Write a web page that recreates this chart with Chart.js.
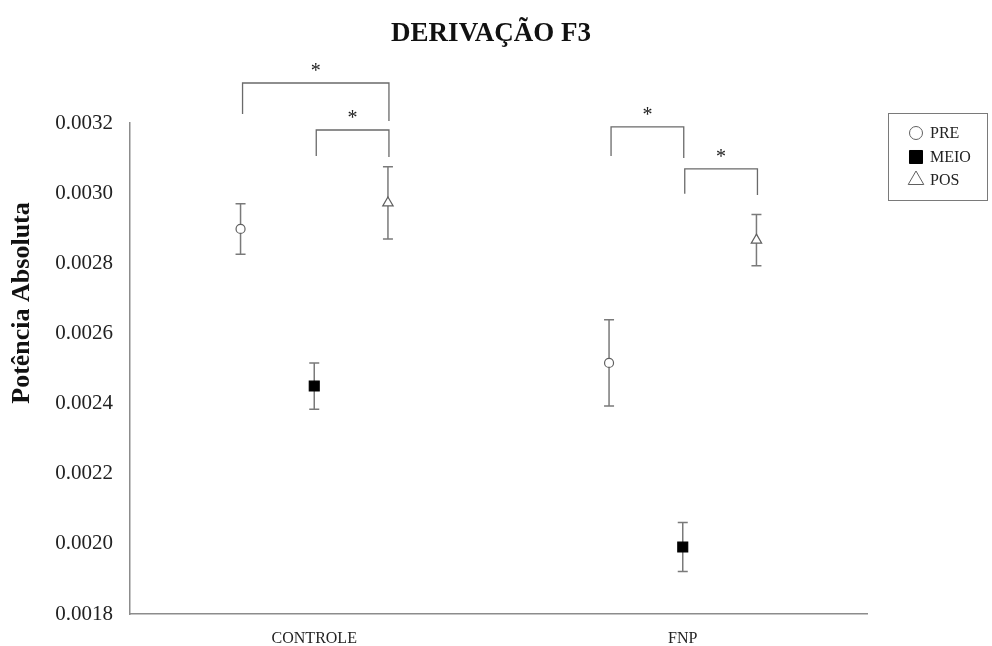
<!DOCTYPE html>
<html>
<head>
<meta charset="utf-8">
<title>Derivação F3</title>
<script src="https://cdn.jsdelivr.net/npm/chart.js@4/dist/chart.umd.min.js"></script>
<style>
  html, body { margin: 0; padding: 0; background: #fff; }
  #wrap { width: 992px; height: 646px; position: relative; }
</style>
</head>
<body>
<div id="wrap"><canvas id="chart"></canvas></div>
<script>
// Groups and moments of measurement
const categories = ['CONTROLE', 'FNP'];
const seriesNames = ['PRE', 'MEIO', 'POS'];

// Mean absolute power and error per group
const preMean  = [0.002898, 0.002516];
const preErr   = [0.000072, 0.000123];
const meioMean = [0.002450, 0.001991];
const meioErr  = [0.000066, 0.000070];
const posMean  = [0.002972, 0.002866];
const posErr   = [0.000103, 0.000073];

// Value axis ticks
const yTicks = [0.0018, 0.0020, 0.0022, 0.0024, 0.0026, 0.0028, 0.0030, 0.0032];

// Significant comparisons: group, first moment, second moment,
// bracket level and where each leg ends (value units)
const compGroup   = [0, 0, 1, 1];
const compFrom    = [0, 1, 0, 1];
const compTo      = [2, 2, 1, 2];
const compLevel   = [0.003314, 0.003180, 0.003189, 0.003069];
const compLegFrom = [0.003226, 0.003106, 0.003106, 0.002998];
const compLegTo   = [0.003206, 0.003103, 0.003100, 0.002995];
const compMark    = ['*', '*', '*', '*'];

// ---- presentation ----
const SERIF = '"Liberation Serif", "Times New Roman", serif';
const groupOffset = [-0.2, 0, 0.2];          // spread of the three moments inside a group
const means = [preMean, meioMean, posMean];
const errs = [preErr, meioErr, posErr];
const styles = [
  { pointStyle: 'circle',   radius: 4.5, bg: '#ffffff', border: '#606060', legendRadius: 6.5 },
  { pointStyle: 'rect',     radius: 7,   bg: '#000000', border: '#000000', legendRadius: 9.2 },
  { pointStyle: 'triangle', radius: 6,   bg: '#ffffff', border: '#606060', legendRadius: 9 }
];

const datasets = seriesNames.map((name, s) => ({
  label: name,
  data: categories.map((_, c) => ({ x: c + groupOffset[s], y: means[s][c], err: errs[s][c] })),
  pointStyle: styles[s].pointStyle,
  pointRadius: styles[s].radius,
  pointHoverRadius: styles[s].radius,
  pointBackgroundColor: styles[s].bg,
  pointBorderColor: styles[s].border,
  pointBorderWidth: 1.2,
  showLine: false
}));

// Vertical error bars with caps, drawn beneath the markers
const errorBars = {
  id: 'errorBars',
  beforeDatasetsDraw(chart) {
    const { ctx, scales: { y } } = chart;
    ctx.save();
    ctx.strokeStyle = '#7a7a7a';
    ctx.lineWidth = 1.5;
    chart.data.datasets.forEach((ds, i) => {
      const meta = chart.getDatasetMeta(i);
      meta.data.forEach((pt, j) => {
        const d = ds.data[j];
        const top = y.getPixelForValue(d.y + d.err);
        const bot = y.getPixelForValue(d.y - d.err);
        const cap = 5;
        ctx.beginPath();
        ctx.moveTo(pt.x, top); ctx.lineTo(pt.x, bot);
        ctx.moveTo(pt.x - cap, top); ctx.lineTo(pt.x + cap, top);
        ctx.moveTo(pt.x - cap, bot); ctx.lineTo(pt.x + cap, bot);
        ctx.stroke();
      });
    });
    ctx.restore();
  }
};

// Significance brackets with asterisks
const brackets = {
  id: 'brackets',
  afterDraw(chart) {
    const { ctx, scales: { x, y } } = chart;
    ctx.save();
    ctx.strokeStyle = '#6a6a6a';
    ctx.lineWidth = 1.3;
    ctx.fillStyle = '#222';
    ctx.font = '20px ' + SERIF;
    ctx.textAlign = 'center';
    ctx.textBaseline = 'middle';
    compGroup.forEach((g, i) => {
      const xa = x.getPixelForValue(g + groupOffset[compFrom[i]]) + 2;
      const xb = x.getPixelForValue(g + groupOffset[compTo[i]]) + 1;
      const yt = y.getPixelForValue(compLevel[i]);
      ctx.beginPath();
      ctx.moveTo(xa, y.getPixelForValue(compLegFrom[i]));
      ctx.lineTo(xa, yt);
      ctx.lineTo(xb, yt);
      ctx.lineTo(xb, y.getPixelForValue(compLegTo[i]));
      ctx.stroke();
      ctx.fillText(compMark[i], (xa + xb) / 2, yt - 11);
    });
    ctx.restore();
  }
};

// Rotated value-axis title
const yTitle = {
  id: 'yTitle',
  afterDraw(chart) {
    const { ctx } = chart;
    ctx.save();
    ctx.translate(22, 303);
    ctx.rotate(-Math.PI / 2);
    ctx.font = 'bold 26px ' + SERIF;
    ctx.fillStyle = '#111';
    ctx.textAlign = 'center';
    ctx.textBaseline = 'middle';
    ctx.fillText('Potência Absoluta', 0, 0);
    ctx.restore();
  }
};

// Framed legend on the right
const legendBox = {
  id: 'legendBox',
  afterDraw(chart) {
    const { ctx } = chart;
    const left = 888, top = 113, w = 99, h = 87;
    ctx.save();
    ctx.strokeStyle = '#7a7a7a';
    ctx.lineWidth = 1;
    ctx.strokeRect(left + 0.5, top + 0.5, w, h);
    const rows = [133, 157, 180];
    chart.data.datasets.forEach((ds, i) => {
      ctx.fillStyle = styles[i].bg;
      ctx.strokeStyle = styles[i].border;
      ctx.lineWidth = 1;
      Chart.helpers.drawPoint(ctx, { pointStyle: ds.pointStyle, radius: styles[i].legendRadius, rotation: 0, borderWidth: 1 }, 916, rows[i]);
      ctx.fillStyle = '#222';
      ctx.font = '16px ' + SERIF;
      ctx.textAlign = 'left';
      ctx.textBaseline = 'middle';
      ctx.fillText(ds.label, 930, rows[i] + 1);
    });
    ctx.restore();
  }
};

new Chart(document.getElementById('chart'), {
  type: 'scatter',
  data: { datasets },
  plugins: [errorBars, brackets, yTitle, legendBox],
  options: {
    responsive: true,
    maintainAspectRatio: false,
    devicePixelRatio: 1,
    animation: false,
    layout: { padding: { left: 0, right: 10, top: 0, bottom: 0 } },
    plugins: {
      legend: { display: false },
      tooltip: { enabled: false },
      title: {
        display: true,
        text: 'DERIVAÇÃO F3',
        color: '#111',
        font: { family: SERIF, size: 27, weight: 'bold' },
        padding: { top: 18, bottom: 72.6 }
      }
    },
    scales: {
      x: {
        type: 'linear',
        min: -0.5,
        max: 1.5,
        afterBuildTicks(scale) { scale.ticks = categories.map((_, i) => ({ value: i })); },
        afterFit(scale) { scale.height = 32; },
        grid: { display: false, drawTicks: false },
        border: { display: true, color: '#8c8c8c', width: 1.5 },
        ticks: {
          autoSkip: false,
          maxRotation: 0,
          padding: 15,
          color: '#222',
          font: { family: SERIF, size: 16 },
          callback: (v) => categories[v] ?? ''
        }
      },
      y: {
        type: 'linear',
        min: yTicks[0],
        max: yTicks[yTicks.length - 1],
        afterBuildTicks(scale) { scale.ticks = yTicks.map(v => ({ value: v })); },
        afterFit(scale) { scale.width = 130; },
        grid: { display: false, drawTicks: false },
        border: { display: true, color: '#8c8c8c', width: 1.5 },
        ticks: {
          padding: 17,
          color: '#222',
          font: { family: SERIF, size: 21 },
          callback: (v) => Number(v).toFixed(4)
        }
      },
      // empty strip on the right that holds the legend
      legendSpace: {
        type: 'linear',
        position: 'right',
        display: true,
        afterFit(scale) { scale.width = 115; },
        grid: { display: false, drawTicks: false },
        border: { display: false },
        ticks: { display: false }
      }
    }
  }
});
</script>
</body>
</html>
